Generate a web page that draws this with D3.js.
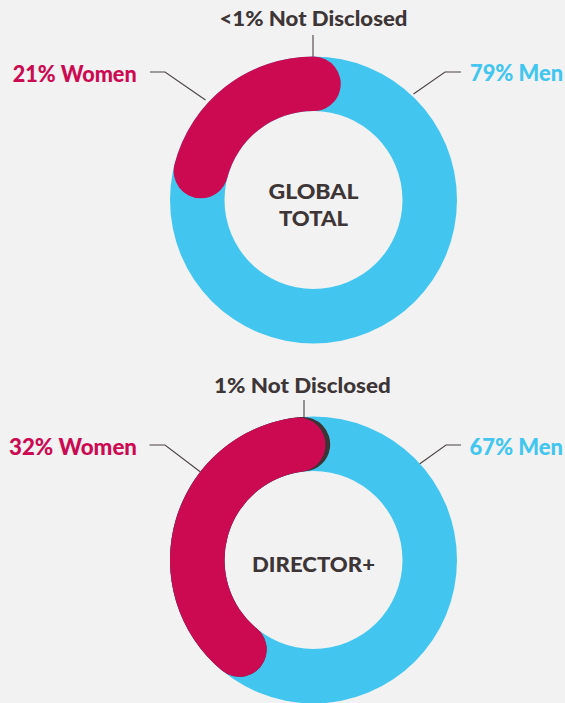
<!DOCTYPE html>
<html>
<head>
<meta charset="utf-8">
<script src="https://cdn.jsdelivr.net/npm/d3@7"></script>
<style>
  html, body { margin: 0; padding: 0; background: #f2f2f2; }
  svg { display: block; }
  text { font-family: "Lato", "Open Sans", sans-serif; font-weight: 900; }
</style>
</head>
<body>
<div id="chart"></div>
<script>
// ---------- data ----------
const groups = ["GLOBAL TOTAL", "DIRECTOR+"];
const centerLines = [["GLOBAL", "TOTAL"], ["DIRECTOR+"]];
const womenPct = [21, 32];
const menPct = [79, 67];
const notDisclosedPct = ["<1", "1"];
// arcs as drawn in the picture (percent of the circle, 0 = 12 o'clock)
const womenArcStart = [0, -2.1];
const womenArcSweep = [21, 36.9];
const notDisclosedArcSweep = [0, 0.65];

// ---------- layout ----------
const W = 565, H = 703;
const colors = { men: "#42c6f0", women: "#cc0a52", nd: "#3d3436", text: "#3d3536", bg: "#f2f2f2", line: "#4a4244" };
const rOuter = 143.5, rInner = 89;
const half = (rOuter - rInner) / 2, rMid = (rOuter + rInner) / 2;
const capExt = Math.asin(half / rMid);

const layout = [
  { cx: 313.5, cy: 200,
    nd: { x: 313.5, y: 26, w: 188, size: 20, lx: 313, ly0: 35, ly1: 60 },
    women: { x: 136.7, y: 81.7, w: 124, size: 22, elbow: [165, 72], hx: 150, end: [-108, -100] },
    men: { x: 470, y: 81, w: 93, size: 22, elbow: [445, 72], hx: 461, end: [100, -106] },
    center: [{ y: 199.3, w: 90, size: 20 }, { y: 226, w: 69, size: 20 }] },
  { cx: 313.5, cy: 560,
    nd: { x: 302.4, y: 393.3, w: 176.7, size: 20, lx: 304, ly0: 400, ly1: 421 },
    women: { x: 137, y: 455, w: 128, size: 22, elbow: [165, 445], hx: 149.5, end: [-113, -88] },
    men: { x: 469.5, y: 455, w: 93.5, size: 22, elbow: [446, 445], hx: 461, end: [106, -96] },
    center: [{ y: 572.3, w: 123, size: 21 }] }
];

const angle = d3.scaleLinear().domain([0, 100]).range([0, 2 * Math.PI]);

const ring = d3.arc().innerRadius(rInner).outerRadius(rOuter);
const capped = d3.arc().innerRadius(rInner).outerRadius(rOuter).cornerRadius(half);
function cappedPath(p0, p1) {
  const a0 = Math.min(angle(p0), angle(p1)), a1 = Math.max(angle(p0), angle(p1));
  return capped({ startAngle: a0 - capExt, endAngle: a1 + capExt });
}

const svg = d3.select("#chart").append("svg").attr("width", W).attr("height", H);
svg.append("rect").attr("width", W).attr("height", H).attr("fill", colors.bg);

groups.forEach((g, i) => {
  const L = layout[i];
  const gEl = svg.append("g");

  // leader lines (under the rings)
  const lines = gEl.append("g").attr("stroke", colors.line).attr("stroke-width", 1.1).attr("fill", "none");
  lines.append("line").attr("x1", L.nd.lx).attr("x2", L.nd.lx).attr("y1", L.nd.ly0).attr("y2", L.nd.ly1);
  [L.women, L.men].forEach(s => {
    lines.append("polyline").attr("points", [
      [s.hx, s.elbow[1]], s.elbow, [L.cx + s.end[0], L.cy + s.end[1]]
    ].map(p => p.join(",")).join(" "));
  });

  const donut = gEl.append("g").attr("transform", `translate(${L.cx},${L.cy})`);
  // men ring (full)
  donut.append("path").attr("d", ring({ startAngle: 0, endAngle: angle(100) })).attr("fill", colors.men);
  // not disclosed (under women arc)
  if (notDisclosedArcSweep[i] > 0) {
    const endP = womenArcStart[i] - womenArcSweep[i];
    donut.append("path").attr("d", cappedPath(endP, womenArcStart[i] + notDisclosedArcSweep[i])).attr("fill", colors.nd);
  }
  // women arc
  donut.append("path").attr("d", cappedPath(womenArcStart[i] - womenArcSweep[i], womenArcStart[i])).attr("fill", colors.women);

  // labels
  gEl.append("text").attr("x", L.nd.x).attr("y", L.nd.y).attr("text-anchor", "middle")
    .attr("font-size", L.nd.size).attr("fill", colors.text)
    .attr("textLength", L.nd.w).attr("lengthAdjust", "spacingAndGlyphs")
    .text(`${notDisclosedPct[i]}% Not Disclosed`);
  gEl.append("text").attr("x", L.women.x).attr("y", L.women.y).attr("text-anchor", "end")
    .attr("font-size", L.women.size).attr("fill", colors.women)
    .attr("textLength", L.women.w).attr("lengthAdjust", "spacingAndGlyphs")
    .text(`${womenPct[i]}% Women`);
  gEl.append("text").attr("x", L.men.x).attr("y", L.men.y).attr("text-anchor", "start")
    .attr("font-size", L.men.size).attr("fill", colors.men)
    .attr("textLength", L.men.w).attr("lengthAdjust", "spacingAndGlyphs")
    .text(`${menPct[i]}% Men`);
  centerLines[i].forEach((t, k) => {
    const c = L.center[k];
    gEl.append("text").attr("x", L.cx).attr("y", c.y).attr("text-anchor", "middle")
      .attr("font-size", c.size).attr("fill", colors.text)
      .attr("textLength", c.w).attr("lengthAdjust", "spacingAndGlyphs")
      .text(t);
  });
});
</script>
</body>
</html>
